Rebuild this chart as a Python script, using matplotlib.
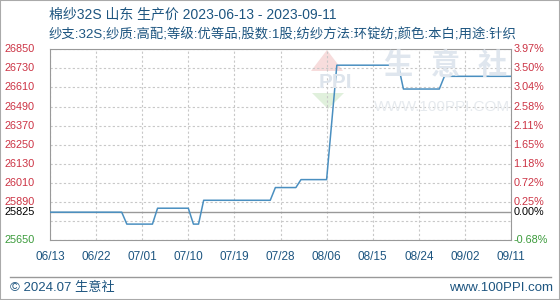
import matplotlib
matplotlib.use("Agg")
import matplotlib.pyplot as plt
import numpy as np
import pandas as pd

plt.rcParams['font.family'] = ['Liberation Sans', 'Noto Sans CJK SC', 'DejaVu Sans']

# price change points
dates = ['2023-06-13', '2023-06-27', '2023-06-28', '2023-07-03', '2023-07-04',
         '2023-07-10', '2023-07-11', '2023-07-12', '2023-07-13', '2023-07-26',
         '2023-07-27', '2023-07-31', '2023-08-01', '2023-08-06', '2023-08-08',
         '2023-08-20', '2023-08-21', '2023-08-28', '2023-08-29', '2023-09-11']
prices = [25825, 25825, 25750, 25750, 25850,
          25850, 25750, 25750, 25900, 25900,
          25980, 25980, 26030, 26030, 26750,
          26750, 26600, 26600, 26680, 26680]

base_price = 25825
y_grid = [25650, 25770, 25890, 26010, 26130, 26250, 26370, 26490, 26610, 26730, 26850]
x_ticks = ['06/13', '06/22', '07/01', '07/10', '07/19', '07/28',
           '08/06', '08/15', '08/24', '09/02', '09/11']

title = '棉纱32S 山东 生产价 2023-06-13 - 2023-09-11'
subtitle = '纱支:32S;纱质:高配;等级:优等品;股数:1股;纺纱方法:环锭纺;颜色:本白;用途:针织'

red = '#cc3344'
green = '#3a9a3a'
blue_txt = '#1d5580'

W, H = 560, 300


def fx(px):
    return px / W


def fy(py):
    return 1 - py / H


x = pd.to_datetime(dates)
start, end = pd.Timestamp('2023-06-13'), pd.Timestamp('2023-09-11')
tick_pos = pd.date_range(start, end, freq='9D')

fig = plt.figure(figsize=(5.6, 3.0), dpi=100)
ax = fig.add_axes([fx(50), fy(240), 461 / W, 190.7 / H])

# watermark (logo + site name)
roof = plt.Polygon([(fx(311), fy(71)), (fx(327), fy(50)), (fx(343), fy(71))],
                   transform=fig.transFigure, fc='#f7dcdc', ec='none', zorder=0)
leaf = plt.Polygon([(fx(312), fy(93)), (fx(344), fy(93)), (fx(328), fy(109))],
                   transform=fig.transFigure, fc='#e0f0dc', ec='none', zorder=0)
fig.add_artist(roof)
fig.add_artist(leaf)
fig.text(fx(335), fy(82), 'PPI', ha='center', va='center', fontsize=15,
         fontweight='bold', color='#dde4ec', zorder=0)
for cx, ch in zip([398, 445, 492], '生意社'):
    fig.text(fx(cx), fy(66), ch, ha='center', va='center', fontsize=21,
             fontweight='bold', color='#dfe6ee', zorder=0)
fig.text(fx(442), fy(107), 'WWW.100PPI.COM', ha='center', va='center',
         fontsize=11, color='#e6eaee', zorder=0)
ax.patch.set_alpha(0)

ax.plot(x, prices, color='#4a8fc0', lw=1.1, zorder=3)
ax.axhline(base_price, color='#999999', lw=1.0, zorder=2)

ax.set_xlim(start, end)
ax.set_ylim(y_grid[0], y_grid[-1])
ax.set_xticks(tick_pos)
ax.set_xticklabels(x_ticks, fontsize=8.5, color=blue_txt)
ax.tick_params(axis='x', length=0, pad=8)

ax.set_yticks(y_grid)
ax.grid(True, color='#c8c8c8', ls=(0, (2, 2)), lw=0.8)
ax.set_yticklabels([])
ax.tick_params(axis='y', length=0)
for s in ax.spines.values():
    s.set_color('#999999')

# left labels
ylab = [(v, str(v), red) for v in y_grid if v not in (25650, 25770)]
ylab += [(25650, '25650', green), (base_price, str(base_price), 'black')]
for v, t, c in ylab:
    ax.text(-0.033, v, t, transform=ax.get_yaxis_transform(), ha='right', va='center',
            fontsize=7.8, color=c)

# right percentage labels
rlab = [(v, '%.2f%%' % ((v - base_price) / base_price * 100), red)
        for v in y_grid if v not in (25650, 25770)]
rlab += [(25650, '%.2f%%' % ((25650 - base_price) / base_price * 100), green),
         (base_price, '0.00%', 'black')]
for v, t, c in rlab:
    ax.text(1.005, v, t, transform=ax.get_yaxis_transform(), ha='left', va='center',
            fontsize=7.8, color=c)

fig.text(fx(49), fy(14), title, fontsize=10, color=blue_txt, va='center')
fig.text(fx(49), fy(35), subtitle, fontsize=9.6, color=blue_txt, va='center')

# footer
fig.add_artist(plt.Line2D([fx(10), fx(551)], [fy(277)] * 2, color='#999999', lw=1))
fig.text(fx(10), fy(288), '© 2024.07 生意社', fontsize=9.5, color=blue_txt, va='center')
fig.text(fx(553), fy(288), 'www.100PPI.com', fontsize=9.5, color=blue_txt,
         va='center', ha='right')
fig.add_artist(plt.Rectangle((0, 0), 1, 1, transform=fig.transFigure, fill=False,
                             ec='#aaaaaa', lw=1.5))

fig.savefig('out.png', dpi=100)
